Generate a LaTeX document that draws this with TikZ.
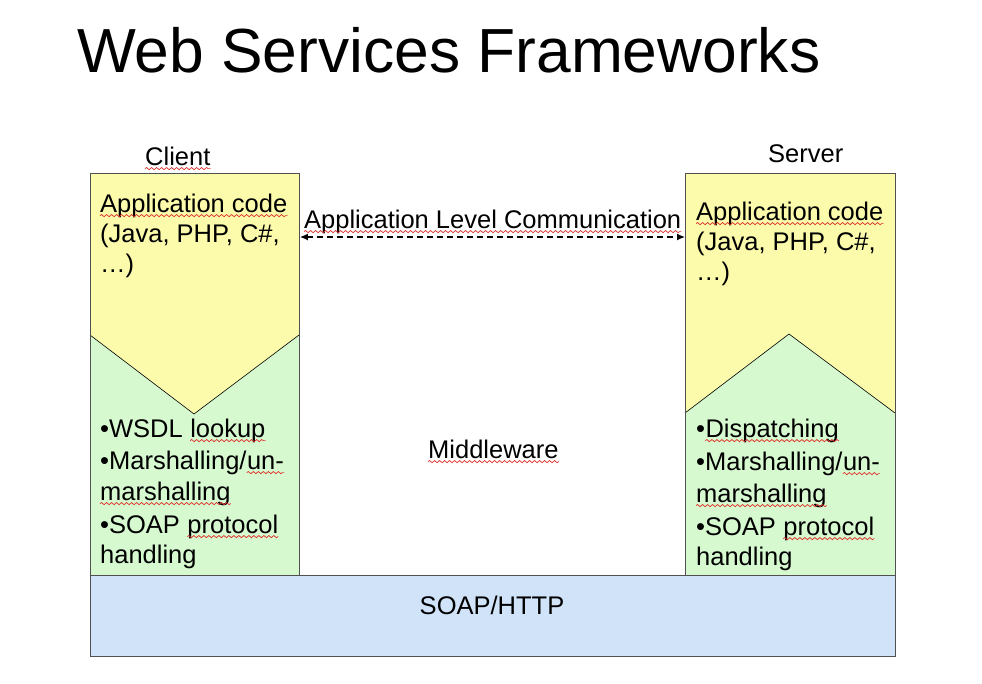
\documentclass[tikz,border=0pt]{standalone}
\usepackage{fontspec}
\setmainfont{Liberation Sans}
\usetikzlibrary{arrows.meta,decorations.pathmorphing}
\definecolor{spellred}{HTML}{E0302A}
\definecolor{appyellow}{HTML}{FCFBAB}
\definecolor{mwgreen}{HTML}{D6F9D0}
\definecolor{netblue}{HTML}{D0E3F9}
\definecolor{edgegray}{HTML}{505050}
\begin{document}
\begin{tikzpicture}[x=1pt,y=-1pt,
  txt/.style={anchor=base west,inner sep=0pt,font=\fontsize{25.5}{30}\selectfont},
  after/.style={txt,xshift=7.1pt},
  frame/.style={draw=edgegray,line width=0.9pt,fill=none,inner sep=0pt,anchor=north west},
  wave/.style={draw=spellred,line width=0.7pt,decorate,
    decoration={snake,segment length=5pt,amplitude=1.1pt}}]
\useasboundingbox (0,0) rectangle (982,683);
% spell-check style squiggle under a word node
\newcommand\squiggle[1]{\path[wave] ([yshift=-3.6pt]#1.base west) -- ([yshift=-3.6pt]#1.base east);}

% title
\node[anchor=base west,inner sep=0pt,font=\fontsize{62.3}{70}\selectfont] (title) at (77,72) {Web Services Frameworks};

% client column: application layer (yellow) over middleware (green) with a V boundary
\fill[mwgreen] (90,335) -- (194,414) -- (299,335) -- (299,575) -- (90,575) -- cycle;
\fill[appyellow] (90,173) -- (299,173) -- (299,335) -- (194,414) -- (90,335) -- cycle;
\draw[black,line width=0.6pt] (90,335) -- (194,414) -- (299,335);
\node[frame,minimum width=209pt,minimum height=402pt] (client) at (90,173) {};

% server column: inverted V boundary
\fill[appyellow] (685,173) -- (895,173) -- (895,413) -- (789,334) -- (685,413) -- cycle;
\fill[mwgreen] (685,413) -- (789,334) -- (895,413) -- (895,575) -- (685,575) -- cycle;
\draw[black,line width=0.6pt] (685,413) -- (789,334) -- (895,413);
\node[frame,minimum width=210pt,minimum height=402pt] (server) at (685,173) {};

% transport layer
\node[frame,fill=netblue,minimum width=805pt,minimum height=81pt] (soap) at (90,575) {};
\node[anchor=base,inner sep=0pt,font=\fontsize{25.5}{30}\selectfont] (soaplbl) at (492,614) {SOAP/HTTP};

% column headings
\node[txt] (clientlbl) at (145,165) {Client};
\node[txt] (serverlbl) at (768,162) {Server};

% client texts
\node[txt] (ca1) at (100,212) {Application code};
\node[txt] (ca2) at (100,242) {(Java, PHP, C\#,};
\node[txt] (ca3) at (100,272) {\ldots)};
\node[txt] (cb1) at (100,437) {\textbullet WSDL};
\node[after] (cb1w) at (cb1.base east) {lookup};
\node[txt] (cb2) at (100,469) {\textbullet Marshalling/};
\node[txt] (cb2w) at (cb2.base east) {un-};
\node[txt] (cb3) at (100,500) {marshalling};
\node[txt] (cb4) at (100,533) {\textbullet SOAP};
\node[after] (cb4w) at (cb4.base east) {protocol};
\node[txt] (cb5) at (100,563) {handling};

% server texts
\node[txt] (sa1) at (696,220) {Application code};
\node[txt] (sa2) at (696,250) {(Java, PHP, C\#,};
\node[txt] (sa3) at (696,280) {\ldots)};
\node[txt] (sb1) at (696,437) {\textbullet};
\node[txt] (sb1w) at (sb1.base east) {Dispatching};
\node[txt] (sb2) at (696,470) {\textbullet Marshalling/};
\node[txt] (sb2w) at (sb2.base east) {un-};
\node[txt] (sb3) at (696,502) {marshalling};
\node[txt] (sb4) at (696,535) {\textbullet SOAP};
\node[after] (sb4w) at (sb4.base east) {protocol};
\node[txt] (sb5) at (696,565) {handling};

% middle
\node[txt] (mw) at (428,458) {Middleware};
\node[txt] (alc) at (304,228) {Application Level Communication};
\coordinate (aL) at (client.east |- 0,237);
\coordinate (aR) at (server.west |- 0,237);
\draw[line width=1.3pt,dash pattern=on 6pt off 4pt,
  {Latex[length=8pt,width=7pt]}-{Latex[length=8pt,width=7pt]}] (aL) -- (aR);

% squiggles
\squiggle{clientlbl}
\squiggle{ca1} \squiggle{sa1} \squiggle{alc} \squiggle{mw}
\squiggle{cb1w} \squiggle{cb2w} \squiggle{cb3} \squiggle{cb4w}
\squiggle{sb1w} \squiggle{sb2w} \squiggle{sb3} \squiggle{sb4w}
\end{tikzpicture}
\end{document}
